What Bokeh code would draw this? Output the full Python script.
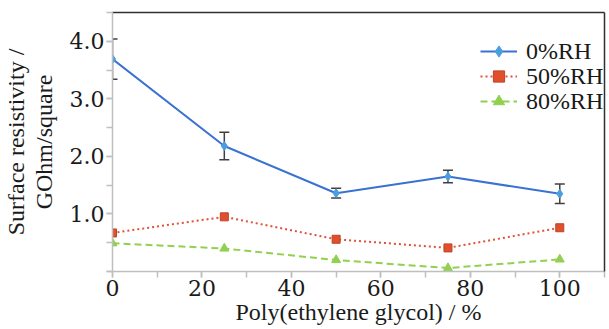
from bokeh.plotting import figure
from bokeh.models import (ColumnDataSource, Whisker, TeeHead, Legend, LegendItem,
                          FixedTicker, Range1d, LinearAxis)
from bokeh.embed import file_html
from bokeh.resources import INLINE

# ---- data ----
peg = [0, 25, 50, 75, 100]
rh0 = [3.69, 2.18, 1.36, 1.65, 1.35]
rh0_err = [0.35, 0.24, 0.085, 0.11, 0.17]
rh50 = [0.67, 0.95, 0.56, 0.41, 0.76]
rh80 = [0.49, 0.40, 0.20, 0.06, 0.21]
series_names = ["0%RH", "50%RH", "80%RH"]
x_ticks = [0, 20, 40, 60, 80, 100]
y_ticks = [0, 1, 2, 3, 4]
y_tick_labels = ["", "1.0", "2.0", "3.0", "4.0"]

FONT = "serif"
TICK_FONT = "DejaVu Serif"
TXT = "#1a1a1a"
AX = "#bfbfbf"

p = figure(width=609, height=329, x_range=Range1d(0, 110), y_range=Range1d(0, 4.5),
           output_backend="svg", toolbar_location=None,
           min_border_left=107, min_border_right=5, min_border_top=12, min_border_bottom=58)
p.xgrid.visible = False
p.ygrid.visible = False
p.outline_line_color = None

src = ColumnDataSource(dict(x=peg, y0=rh0,
                            up=[a + b for a, b in zip(rh0, rh0_err)],
                            lo=[a - b for a, b in zip(rh0, rh0_err)],
                            y50=rh50, y80=rh80))

w = Whisker(source=src, base="x", upper="up", lower="lo", line_color="#404040", line_width=1.5,
            upper_head=TeeHead(size=10, line_color="#404040", line_width=1.5),
            lower_head=TeeHead(size=10, line_color="#404040", line_width=1.5))
p.add_layout(w)

l0 = p.line("x", "y0", source=src, line_color="#3a72d2", line_width=2)
m0 = p.scatter("x", "y0", source=src, marker="diamond", size=9, fill_color="#4a9ee0", line_color="#4a9ee0")
l50 = p.line("x", "y50", source=src, line_color="#e0503a", line_width=2, line_dash="2 3")
m50 = p.scatter("x", "y50", source=src, marker="square", size=8, fill_color="#e0502a", line_color="#c0402a")
l80 = p.line("x", "y80", source=src, line_color="#92d050", line_width=2, line_dash="7 4")
m80 = p.scatter("x", "y80", source=src, marker="triangle", size=9, fill_color="#92d050", line_color="#92d050")

entries = [(series_names[0], [l0, m0], 206), (series_names[1], [l50, m50], 181),
           (series_names[2], [l80, m80], 156)]
for name, rends, ypos in entries:
    lg = Legend(items=[LegendItem(label=name, renderers=rends)],
                location=(368, ypos), border_line_color=None, background_fill_alpha=0,
                label_text_font=FONT, label_text_font_size="24px", label_text_color=TXT,
                glyph_width=37, glyph_height=28, label_height=28, spacing=0,
                padding=0, margin=0, label_standoff=9)
    p.add_layout(lg)

p.xaxis.ticker = FixedTicker(ticks=x_ticks, minor_ticks=list(range(0, 111, 10)))
p.yaxis.ticker = FixedTicker(ticks=y_ticks, minor_ticks=[i * 0.5 for i in range(10)])
p.yaxis.major_label_overrides = {t: s for t, s in zip(y_ticks, y_tick_labels)}

for ax in (p.xaxis[0], p.yaxis[0]):
    ax.axis_line_color = AX
    ax.axis_line_width = 1.5
    ax.major_tick_line_color = AX
    ax.minor_tick_line_color = AX
    ax.major_tick_line_width = 1.5
    ax.minor_tick_line_width = 1.5
    ax.major_tick_in = 0
    ax.major_tick_out = 6
    ax.minor_tick_in = 0
    ax.minor_tick_out = 6
    ax.major_label_text_font = TICK_FONT
    ax.major_label_text_font_size = "22px"
    ax.major_label_text_font_style = "normal"
    ax.major_label_text_color = TXT
    ax.axis_label_text_font = FONT
    ax.axis_label_text_font_size = "24px"
    ax.axis_label_text_font_style = "normal"
    ax.axis_label_text_color = TXT
    ax.major_label_standoff = 2

p.xaxis.axis_label = "Poly(ethylene glycol) / %"
p.xaxis.axis_label_standoff = 0
p.yaxis.axis_label = "Surface resistivity /\nGOhm/square"
p.yaxis.axis_label_standoff = 10
p.yaxis.axis_label_text_line_height = 1.05

# dark border on top and right
for loc in ("above", "right"):
    b = LinearAxis(ticker=FixedTicker(ticks=[]), axis_line_color="#303030", axis_line_width=1.5,
                   major_tick_line_color=None, minor_tick_line_color=None,
                   major_label_text_font_size="0px", major_tick_out=0, minor_tick_out=0,
                   major_label_standoff=0)
    p.add_layout(b, loc)

open("out.html", "w").write(file_html(p, INLINE))
